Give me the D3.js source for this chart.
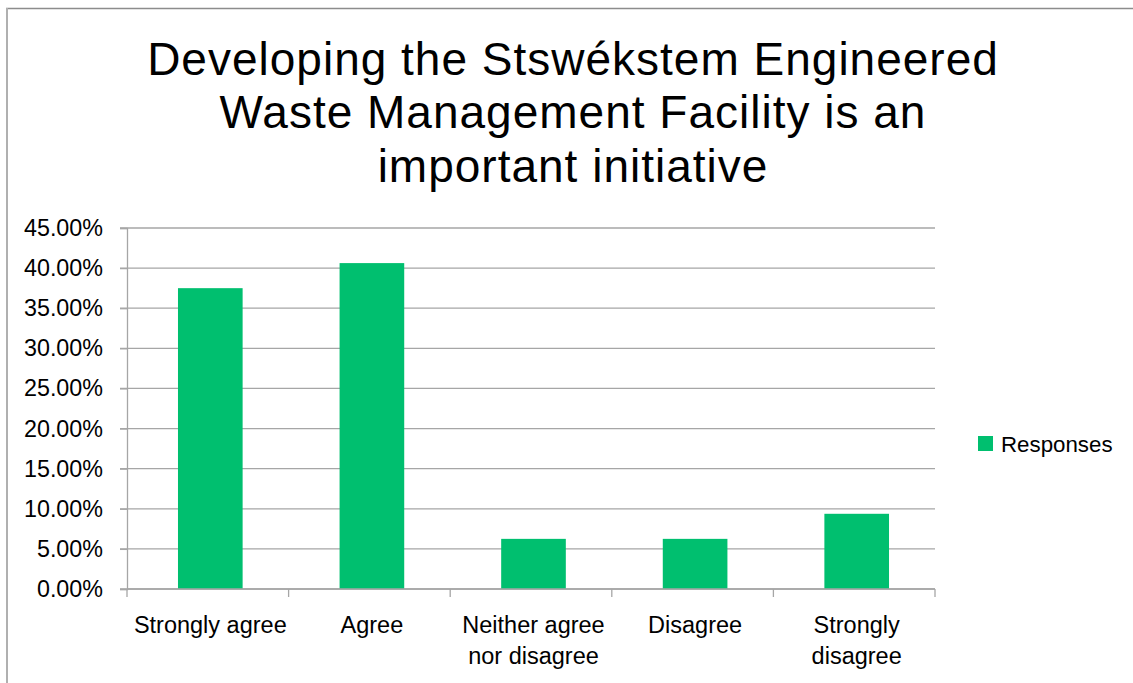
<!DOCTYPE html>
<html>
<head>
<meta charset="utf-8">
<script src="https://cdn.jsdelivr.net/npm/d3@7"></script>
<style>
  body { margin: 0; background: #fff; }
  svg { display: block; font-family: "Liberation Sans", Arial, sans-serif; }
</style>
</head>
<body>
<div id="chart"></div>
<script>
// data (share of responses)
var categories = ["Strongly agree", "Agree", "Neither agree nor disagree", "Disagree", "Strongly disagree"];
var categoryLines = [["Strongly agree"], ["Agree"], ["Neither agree", "nor disagree"], ["Disagree"], ["Strongly", "disagree"]];
var responses = [0.375, 0.40625, 0.0625, 0.0625, 0.09375];
var yTicks = [0, 0.05, 0.10, 0.15, 0.20, 0.25, 0.30, 0.35, 0.40, 0.45];
var titleLines = ["Developing the Stswékstem Engineered", "Waste Management Facility is an", "important initiative"];
var seriesName = "Responses";

var W = 1133, H = 683;
var green = "#00BF6F", gridColor = "#a6a6a6";
var plot = { left: 127, right: 935, top: 228, bottom: 589 };

var svg = d3.select("#chart").append("svg")
    .attr("width", W)
    .attr("height", H);

// outer frame of the chart (right/bottom edges fall outside the picture)
svg.append("line").attr("x1", 6).attr("x2", W).attr("y1", 8.5).attr("y2", 8.5)
    .attr("stroke", "#8c8c8c").attr("stroke-width", 1.5);
svg.append("line").attr("x1", 7).attr("x2", 7).attr("y1", 8).attr("y2", H)
    .attr("stroke", "#b0b0b0").attr("stroke-width", 2);

// title
svg.append("text")
    .attr("x", 573)
    .attr("text-anchor", "middle")
    .attr("font-size", 46)
    .attr("letter-spacing", 1)
    .attr("fill", "#000")
    .selectAll("tspan")
    .data(titleLines)
    .enter().append("tspan")
    .attr("x", 573)
    .attr("y", function (d, i) { return 74.5 + i * 53.5; })
    .text(function (d) { return d; });

var x = d3.scaleBand().domain(categories)
    .range([plot.left, plot.right])
    .paddingInner(0.6).paddingOuter(0.3);
var y = d3.scaleLinear().domain([0, 0.45]).range([plot.bottom, plot.top]);

// gridlines
svg.append("g").selectAll("line")
    .data(yTicks)
    .enter().append("line")
    .attr("x1", plot.left - 7).attr("x2", plot.right)
    .attr("y1", function (d) { return y(d); })
    .attr("y2", function (d) { return y(d); })
    .attr("stroke", gridColor).attr("stroke-width", 1.3);

// y axis
var yAxis = svg.append("g")
    .attr("transform", "translate(" + plot.left + ",0)")
    .call(d3.axisLeft(y).tickValues(yTicks).tickFormat(d3.format(".2%")).tickSize(7).tickPadding(17));
yAxis.select(".domain").attr("stroke", gridColor).attr("stroke-width", 1.3);
yAxis.selectAll(".tick line").attr("stroke", gridColor).attr("stroke-width", 1.3);
yAxis.selectAll(".tick text")
    .attr("font-family", "Liberation Sans, Arial, sans-serif")
    .attr("font-size", 23.3)
    .attr("fill", "#000");

// bars
svg.append("g").selectAll("rect")
    .data(responses)
    .enter().append("rect")
    .attr("x", function (d, i) { return x(categories[i]) + 2.5; })
    .attr("width", x.bandwidth())
    .attr("y", function (d) { return y(d); })
    .attr("height", function (d) { return y(0) - y(d); })
    .attr("fill", green);

// x axis line and category boundary ticks
svg.append("line")
    .attr("x1", plot.left).attr("x2", plot.right)
    .attr("y1", y(0)).attr("y2", y(0))
    .attr("stroke", gridColor).attr("stroke-width", 1.3);
svg.append("g").selectAll("line")
    .data(d3.range(categories.length + 1))
    .enter().append("line")
    .attr("x1", function (i) { return plot.left + i * x.step(); })
    .attr("x2", function (i) { return plot.left + i * x.step(); })
    .attr("y1", y(0)).attr("y2", y(0) + 8)
    .attr("stroke", gridColor).attr("stroke-width", 1.3);

// category labels
svg.append("g").selectAll("text")
    .data(categoryLines)
    .enter().append("text")
    .attr("text-anchor", "middle")
    .attr("font-size", 23.5)
    .attr("fill", "#000")
    .each(function (lines, i) {
        var cx = x(categories[i]) + x.bandwidth() / 2 + 2.5;
        d3.select(this).selectAll("tspan")
            .data(lines)
            .enter().append("tspan")
            .attr("x", cx)
            .attr("y", function (d, j) { return 633 + j * 31; })
            .text(function (d) { return d; });
    });

// legend
var legend = svg.append("g").attr("transform", "translate(978,436)");
legend.append("rect").attr("width", 15).attr("height", 15).attr("fill", green);
legend.append("text")
    .attr("x", 23).attr("y", 16)
    .attr("font-size", 22.3)
    .attr("fill", "#000")
    .text(seriesName);
</script>
</body>
</html>
